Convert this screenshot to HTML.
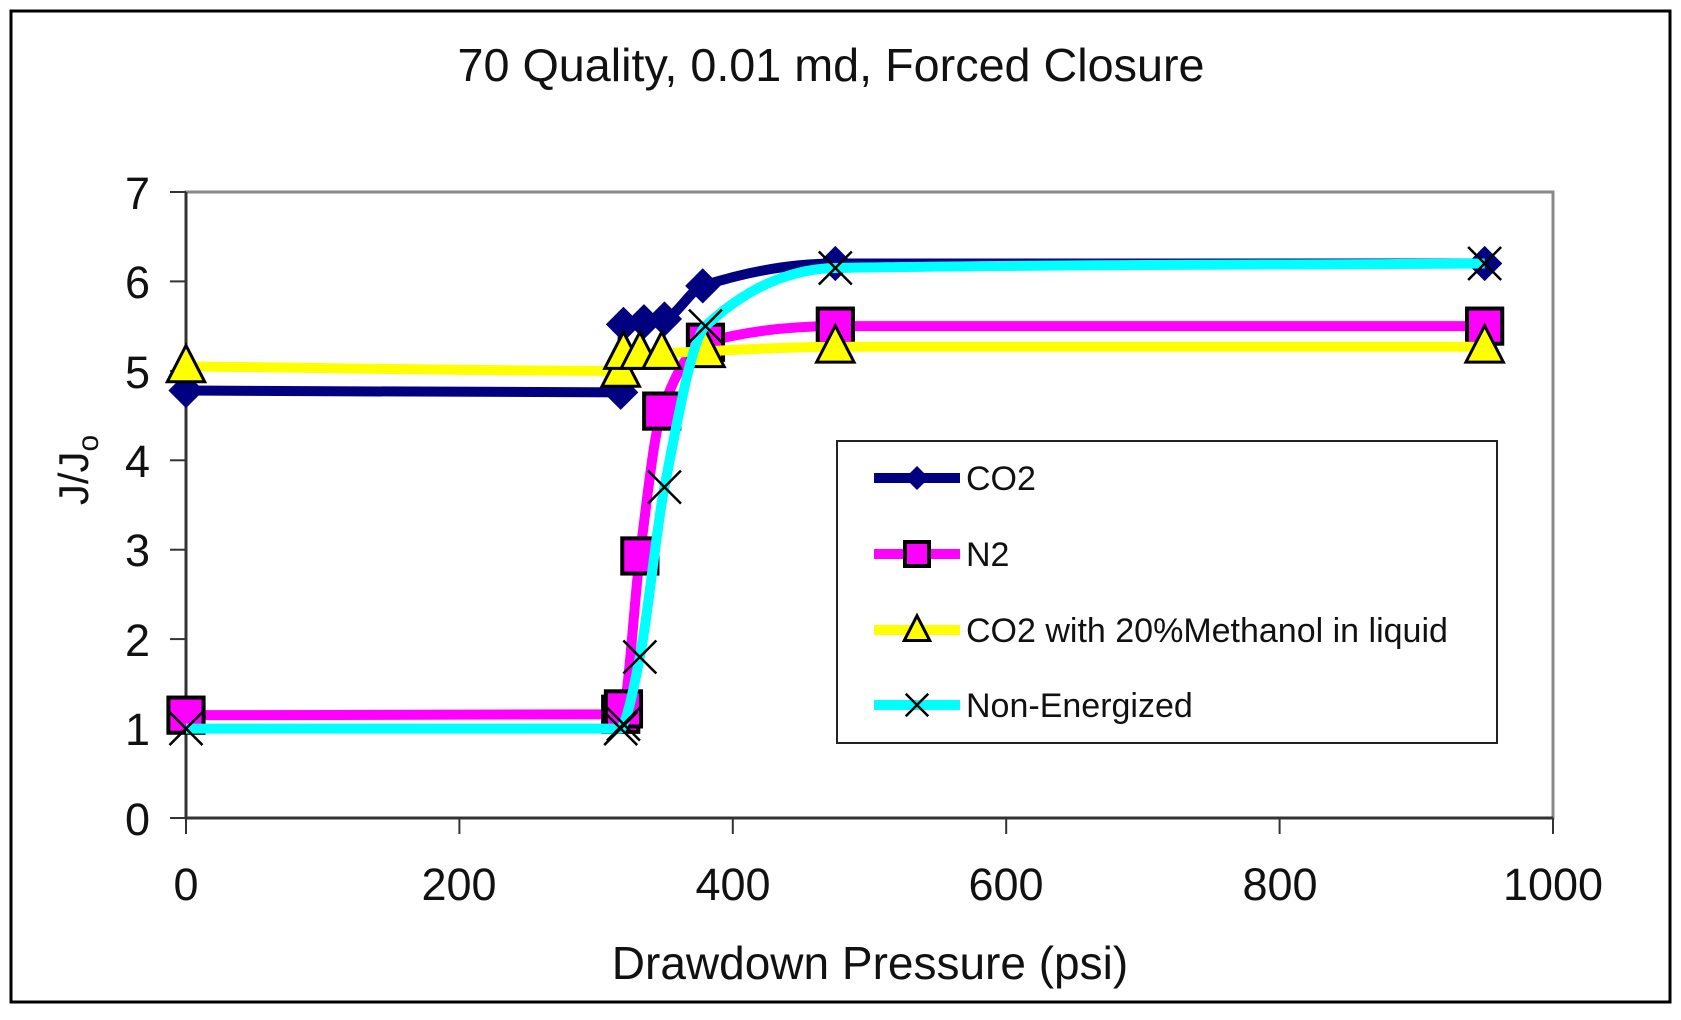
<!DOCTYPE html>
<html><head><meta charset="utf-8"><style>
body{margin:0;background:#fff;}
svg text{font-family:"Liberation Sans",Arial,sans-serif;}
</style></head><body>
<svg id="s" width="1681" height="1015" xmlns="http://www.w3.org/2000/svg">
<rect x="0" y="0" width="1681" height="1015" fill="#fff"/>
<rect x="11" y="11" width="1659" height="991" fill="none" stroke="#000" stroke-width="3"/>
<text x="831" y="81" font-size="46" text-anchor="middle" fill="#111" textLength="747" lengthAdjust="spacingAndGlyphs">70 Quality, 0.01 md, Forced Closure</text>
<rect x="186" y="192" width="1367" height="626" fill="none" stroke="#888" stroke-width="3"/>
<line x1="186" y1="192" x2="186" y2="818" stroke="#333" stroke-width="3"/>
<line x1="186" y1="818" x2="1553" y2="818" stroke="#333" stroke-width="3"/>
<g stroke="#333" stroke-width="2">
<line x1="170" y1="192" x2="186" y2="192"/><line x1="170" y1="281.4" x2="186" y2="281.4"/>
<line x1="170" y1="370.9" x2="186" y2="370.9"/><line x1="170" y1="460.3" x2="186" y2="460.3"/>
<line x1="170" y1="549.7" x2="186" y2="549.7"/><line x1="170" y1="639.1" x2="186" y2="639.1"/>
<line x1="170" y1="728.6" x2="186" y2="728.6"/><line x1="170" y1="818" x2="186" y2="818"/>
<line x1="186" y1="818" x2="186" y2="834"/><line x1="459.4" y1="818" x2="459.4" y2="834"/>
<line x1="732.8" y1="818" x2="732.8" y2="834"/><line x1="1006.2" y1="818" x2="1006.2" y2="834"/>
<line x1="1279.6" y1="818" x2="1279.6" y2="834"/><line x1="1553" y1="818" x2="1553" y2="834"/>
</g>
<g font-size="45" fill="#111" text-anchor="end">
<text x="150" y="209">7</text><text x="150" y="298">6</text><text x="150" y="388">5</text>
<text x="150" y="477">4</text><text x="150" y="566">3</text><text x="150" y="656">2</text>
<text x="150" y="745">1</text><text x="150" y="835">0</text>
</g>
<g font-size="45" fill="#111" text-anchor="middle">
<text x="186" y="900">0</text><text x="459" y="900">200</text><text x="733" y="900">400</text>
<text x="1006" y="900">600</text><text x="1280" y="900">800</text><text x="1553" y="900">1000</text>
</g>
<text x="870" y="979" font-size="46" text-anchor="middle" fill="#111">Drawdown Pressure (psi)</text>
<text transform="translate(88,470) rotate(-90)" font-size="42" text-anchor="middle" fill="#111">J/J<tspan font-size="30" dy="10">o</tspan></text>
<g id="series"></g>
<rect x="837" y="441" width="660" height="302" fill="#fff" stroke="#222" stroke-width="2"/>
<g font-size="34" fill="#111">
<text x="966" y="490">CO2</text><text x="966" y="566">N2</text>
<text x="966" y="642">CO2 with 20%Methanol in liquid</text><text x="966" y="717">Non-Energized</text>
</g>
<g id="leg"></g>
</svg>
<script>
var X0=186,SX=1.367,Y0=818,SY=89.43;
function px(p){return [X0+p[0]*SX,Y0-p[1]*SY];}
var S=[
{c:"#000080",m:"d",d:[[0,4.78],[318,4.76],[320,5.52],[335,5.55],[350,5.58],[378,5.95],[475,6.2],[950,6.2]]},
{c:"#ff00ff",m:"s",d:[[0,1.15],[318,1.16],[320,1.22],[332,2.93],[348,4.55],[380,5.32],[475,5.5],[950,5.5]]},
{c:"#ffff00",m:"t",d:[[0,5.05],[318,5.0],[320,5.2],[332,5.2],[348,5.2],[380,5.22],[475,5.27],[950,5.27]]},
{c:"#00ffff",m:"x",d:[[0,1.0],[318,1.0],[320,1.05],[332,1.8],[350,3.7],[380,5.5],[475,6.15],[950,6.2]]}];
function path(pts){var n=pts.length,x=pts.map(function(p){return p[0]}),y=pts.map(function(p){return p[1]});
var dl=[],m=[];for(var i=0;i<n-1;i++)dl.push((y[i+1]-y[i])/(x[i+1]-x[i]));
m[0]=dl[0];m[n-1]=dl[n-2];
for(i=1;i<n-1;i++){if(dl[i-1]*dl[i]<=0)m[i]=0;else{var w1=2*(x[i+1]-x[i])+(x[i]-x[i-1]),w2=(x[i+1]-x[i])+2*(x[i]-x[i-1]);m[i]=(w1+w2)/(w1/dl[i-1]+w2/dl[i]);}}
var p=px(pts[0]),d="M"+p[0]+","+p[1];
for(i=0;i<n-1;i++){var h=x[i+1]-x[i];var a=px([x[i]+h/3,y[i]+m[i]*h/3]),b=px([x[i+1]-h/3,y[i+1]-m[i+1]*h/3]),c=px(pts[i+1]);
d+=" C"+a[0]+","+a[1]+" "+b[0]+","+b[1]+" "+c[0]+","+c[1];}return d;}
function mk(m,x,y,k){k=k||1.1;var r=16*k;
if(m=="d")return '<polygon points="'+x+','+(y-r)+' '+(x+r)+','+y+' '+x+','+(y+r)+' '+(x-r)+','+y+'" fill="#000080"/>';
if(m=="s")return '<rect x="'+(x-r)+'" y="'+(y-r)+'" width="'+2*r+'" height="'+2*r+'" fill="#ff00ff" stroke="#000" stroke-width="4"/>';
if(m=="t")return '<polygon points="'+x+','+(y-19*k)+' '+(x+17*k)+','+(y+14*k)+' '+(x-17*k)+','+(y+14*k)+'" fill="#ffff00" stroke="#000" stroke-width="3"/>';
r=15*k;return '<path d="M'+(x-r)+','+(y-r)+' L'+(x+r)+','+(y+r)+' M'+(x+r)+','+(y-r)+' L'+(x-r)+','+(y+r)+'" stroke="#000" stroke-width="2.5"/>';}
var h="",L="",ly=[478,554,630,705];
S.forEach(function(s,i){h+='<path d="'+path(s.d)+'" fill="none" stroke="'+s.c+'" stroke-width="10"/>';
s.d.forEach(function(p){var q=px(p);h+=mk(s.m,q[0],q[1]);});
L+='<line x1="874" y1="'+ly[i]+'" x2="960" y2="'+ly[i]+'" stroke="'+s.c+'" stroke-width="10"/>'+mk(s.m,917,ly[i],0.75);});
document.getElementById("series").innerHTML=h;document.getElementById("leg").innerHTML=L;
</script>
</body></html>
